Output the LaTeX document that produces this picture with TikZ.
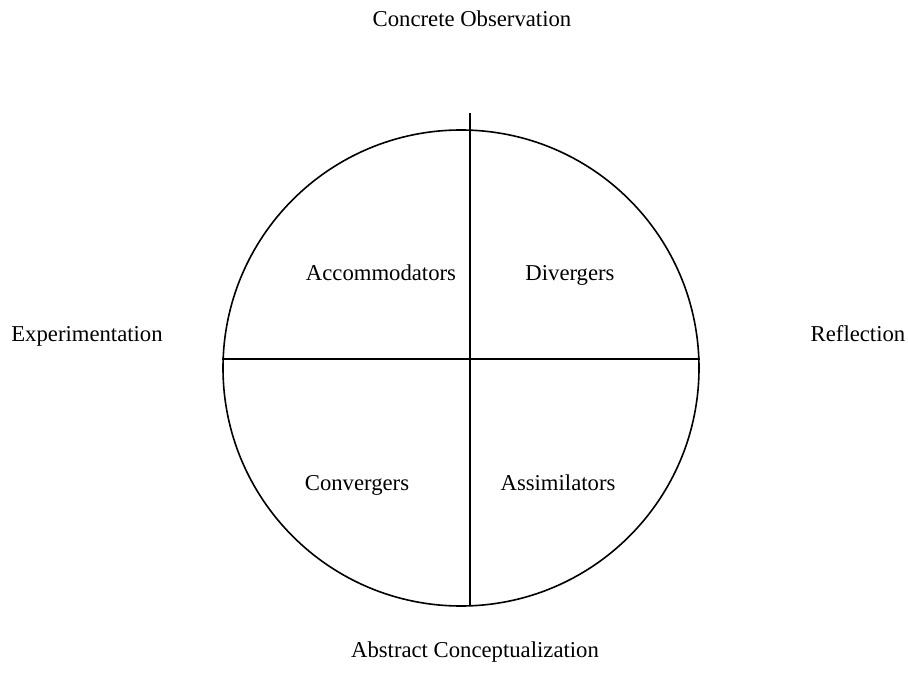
\documentclass[tikz,border=0pt]{standalone}
\usepackage{fontspec}
\setmainfont{Liberation Serif}
\tikzset{
  lbl/.style={anchor=base, inner sep=0pt, font=\fontsize{22.7}{27}\selectfont},
  axis/.style={line width=1.6pt}
}
\begin{document}
\begin{tikzpicture}[x=1pt, y=-1pt]
        \useasboundingbox (0, 0) rectangle (908, 687);
        % Kreis
        \node[circle, draw, line width=1.6pt, minimum size=476pt, inner sep=0pt] (wheel) at (461, 368) {};
        \coordinate (top) at (470, 113);
        \coordinate (bottom) at (470, 605.8);
        \draw[axis] (top) -- (bottom);
        \draw[axis] (wheel.west |- 0, 359) -- (wheel.east |- 0, 359);

        % Achsen
        \node[lbl] (concrete) at (472, 27) {Concrete Observation};
        \node[lbl] (abstract) at (475, 657) {Abstract Conceptualization};
        \node[lbl] (experiment) at (87, 341) {Experimentation};
        \node[lbl] (reflect) at (858, 341) {Reflection};

        % Quadranten
        \node[lbl] (accom) at (381, 280) {Accommodators};
        \node[lbl] (diverg) at (570, 280) {Divergers};
        \node[lbl] (converg) at (357, 490) {Convergers};
        \node[lbl] (assim) at (558, 490) {Assimilators};
\end{tikzpicture}
\end{document}
